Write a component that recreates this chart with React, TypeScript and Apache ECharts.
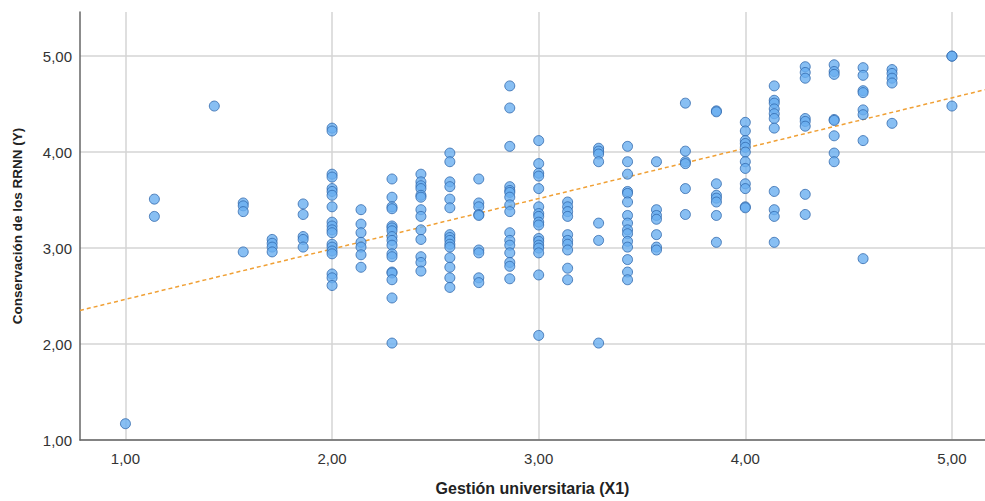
import React, { useEffect, useRef } from "react";
import * as echarts from "echarts";

const xLevels = [
  1.0, 1.14, 1.43, 1.57, 1.71, 1.86, 2.0, 2.14, 2.29, 2.43, 2.57, 2.71, 2.86, 3.0,
  3.14, 3.29, 3.43, 3.57, 3.71, 3.86, 4.0, 4.14, 4.29, 4.43, 4.57, 4.71, 5.0,
];

const yByLevel: number[][] = [
  [1.17],
  [3.51, 3.33],
  [4.48],
  [3.47, 3.44, 3.38, 2.96],
  [3.09, 3.05, 3.01, 2.96],
  [3.46, 3.35, 3.12, 3.09, 3.01],
  [4.25, 4.22, 3.77, 3.74, 3.62, 3.59, 3.55, 3.43, 3.27, 3.23, 3.19, 3.16, 3.04, 3.01, 2.97, 2.94, 2.73, 2.69, 2.61],
  [3.4, 3.25, 3.16, 3.06, 3.01, 2.93, 2.8],
  [3.72, 3.53, 3.43, 3.41, 3.23, 3.21, 3.18, 3.12, 3.08, 3.03, 2.94, 2.91, 2.75, 2.74, 2.67, 2.48, 2.01],
  [3.77, 3.69, 3.65, 3.62, 3.55, 3.53, 3.4, 3.33, 3.19, 3.09, 2.91, 2.85, 2.76],
  [3.99, 3.9, 3.69, 3.64, 3.51, 3.42, 3.14, 3.11, 3.08, 3.04, 3.01, 2.9, 2.8, 2.69, 2.59],
  [3.72, 3.47, 3.43, 3.35, 3.34, 2.98, 2.95, 2.69, 2.64],
  [4.69, 4.46, 4.06, 3.64, 3.6, 3.58, 3.53, 3.45, 3.38, 3.16, 3.08, 3.03, 2.95, 2.85, 2.81, 2.68],
  [4.12, 3.88, 3.78, 3.75, 3.62, 3.43, 3.36, 3.33, 3.27, 3.24, 3.1, 3.07, 3.03, 3.0, 2.95, 2.72, 2.09],
  [3.48, 3.43, 3.38, 3.33, 3.14, 3.08, 3.04, 2.98, 2.79, 2.67],
  [4.04, 4.01, 3.98, 3.9, 3.26, 3.08, 2.01],
  [4.06, 3.9, 3.77, 3.59, 3.57, 3.48, 3.34, 3.26, 3.19, 3.15, 3.07, 3.01, 2.88, 2.75, 2.67],
  [3.9, 3.4, 3.34, 3.3, 3.14, 3.01, 2.98],
  [4.51, 4.01, 3.9, 3.88, 3.62, 3.35],
  [4.43, 4.42, 3.67, 3.55, 3.52, 3.48, 3.34, 3.06],
  [4.31, 4.22, 4.12, 4.09, 4.05, 4.0, 3.9, 3.83, 3.67, 3.62, 3.43, 3.42],
  [4.69, 4.54, 4.51, 4.45, 4.4, 4.35, 4.25, 3.59, 3.4, 3.33, 3.06],
  [4.89, 4.83, 4.77, 4.35, 4.32, 4.27, 3.56, 3.35],
  [4.91, 4.84, 4.81, 4.34, 4.33, 4.17, 3.99, 3.9],
  [4.88, 4.8, 4.64, 4.62, 4.44, 4.39, 4.12, 2.89],
  [4.86, 4.82, 4.77, 4.72, 4.3],
  [5.0, 5.0, 4.48],
];

const fitLineX = [0.78, 5.16];
const fitLineY = [2.35, 4.65];

const tickValues = [1, 2, 3, 4, 5];

const fmt = (v: number) => v.toFixed(2).replace(".", ",");

export default function App() {
  const ref = useRef<HTMLDivElement>(null);

  useEffect(() => {
    if (!ref.current) return;
    const chart = echarts.init(ref.current, undefined, { renderer: "svg" });

    const points: number[][] = [];
    xLevels.forEach((x, i) => {
      yByLevel[i].forEach((y) => points.push([x, y]));
    });

    const font = "'Liberation Sans', Arial, sans-serif";

    chart.setOption({
      animation: false,
      backgroundColor: "#ffffff",
      textStyle: { fontFamily: font },
      grid: { left: 80, right: 0, top: 12, bottom: 61 },
      xAxis: {
        type: "value",
        min: 0.78,
        max: 5.16,
        name: "Gestión universitaria (X1)",
        nameLocation: "middle",
        nameGap: 40,
        nameTextStyle: { fontFamily: font, fontSize: 16, fontWeight: "bold", color: "#222" },
        axisLine: { show: true, onZero: false, lineStyle: { color: "#666", width: 1.5 } },
        axisTick: { show: false, customValues: tickValues },
        axisLabel: {
          customValues: tickValues,
          formatter: (v: number) => fmt(v),
          fontFamily: font,
          fontSize: 15,
          color: "#333",
          margin: 11,
        },
        splitLine: { show: true, lineStyle: { color: "#d4d4d4", width: 1.5 } },
      },
      yAxis: {
        type: "value",
        min: 1,
        max: 5.46,
        name: "Conservación de los RRNN (Y)",
        nameLocation: "middle",
        nameGap: 56,
        nameTextStyle: { fontFamily: font, fontSize: 13.5, fontWeight: "bold", color: "#222" },
        axisLine: { show: true, onZero: false, lineStyle: { color: "#666", width: 1.5 } },
        axisTick: { show: false, customValues: tickValues },
        axisLabel: {
          customValues: tickValues,
          formatter: (v: number) => fmt(v),
          fontFamily: font,
          fontSize: 15,
          color: "#333",
          margin: 8,
        },
        splitLine: { show: true, lineStyle: { color: "#d4d4d4", width: 1.5 } },
      },
      series: [
        {
          type: "line",
          data: fitLineX.map((x, i) => [x, fitLineY[i]]),
          symbol: "none",
          lineStyle: { color: "#f0a035", width: 1.5, type: [4, 3] },
          z: 3,
          silent: true,
        },
        {
          type: "scatter",
          data: points,
          symbolSize: 10,
          itemStyle: { color: "#6aaff0", borderColor: "#2f68ad", borderWidth: 1 },
          z: 4,
        },
      ],
    });

    return () => chart.dispose();
  }, []);

  return (
    <div
      ref={ref}
      style={{ position: "fixed", left: 0, top: 0, width: 985, height: 501 }}
    />
  );
}
